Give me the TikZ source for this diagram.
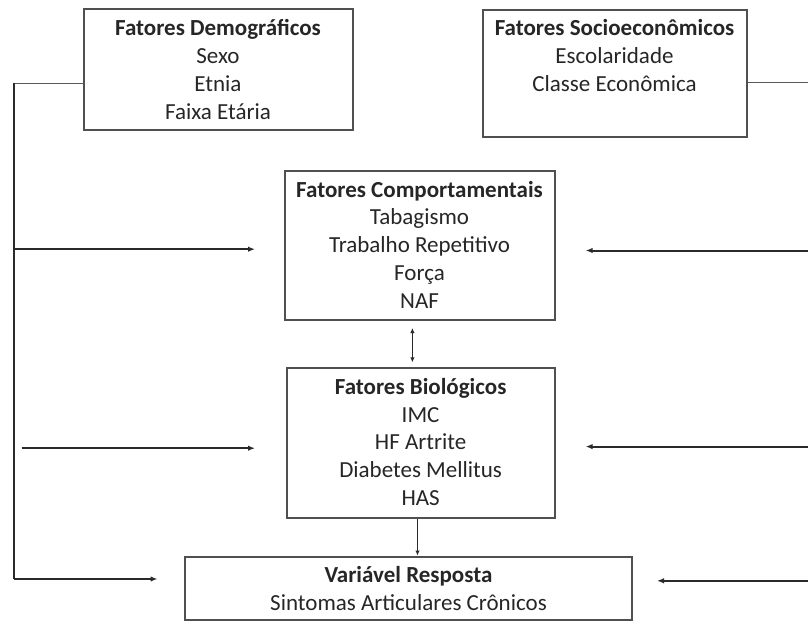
\documentclass[tikz,border=0pt]{standalone}
\usepackage{fontspec}
\setmainfont{Carlito}
\usetikzlibrary{arrows.meta,calc}
\definecolor{boxc}{HTML}{505050}
\definecolor{linec}{HTML}{2A2A2A}
\definecolor{lightline}{HTML}{5A5A5A}
\definecolor{txtc}{HTML}{262626}
\begin{document}
\begin{tikzpicture}[x=1pt,y=-1pt,
  box/.style={draw=boxc, line width=2pt, rectangle, inner sep=0pt},
  txt/.style={anchor=north, inner sep=0pt, align=center, text=txtc,
    font=\fontsize{23}{27.8}\selectfont},
  arr/.style={draw=linec, line width=2pt, -{Latex[length=7pt,width=5.5pt]}},
  link/.style={draw=lightline, line width=1.3pt},
  small/.style={draw=linec, line width=1.3pt, {Latex[length=5pt,width=4.5pt]}-{Latex[length=5pt,width=4.5pt]}},
  down/.style={draw=linec, line width=1.3pt, -{Latex[length=5pt,width=4.5pt]}}]
\useasboundingbox (0,0) rectangle (808,623);

% boxes
\node[box, minimum width=269pt, minimum height=120.8pt] (demo) at (218,69.9) {};
\node[box, minimum width=264pt, minimum height=127.5pt] (socio) at (614.5,73.3) {};
\node[box, minimum width=270pt, minimum height=149.4pt] (comp) at (419.5,245.5) {};
\node[box, minimum width=268pt, minimum height=150pt] (bio) at (420.6,443) {};
\node[box, minimum width=447pt, minimum height=63.5pt] (resp) at (408.5,588.3) {};

% texts
\node[txt] (demot) at ([yshift=-7pt]demo.north) {\rule{0pt}{20pt}\textbf{Fatores Demográficos}\\Sexo\\Etnia\\Faixa Etária};
\node[txt] (sociot) at ([yshift=-7pt]socio.north) {\rule{0pt}{20pt}\textbf{Fatores Socioeconômicos}\\Escolaridade\\Classe Econômica};
\node[txt] (compt) at ([yshift=-7pt]comp.north) {\rule{0pt}{20pt}\textbf{Fatores Comportamentais}\\Tabagismo\\Trabalho Repetitivo\\Força\\NAF};
\node[txt] (biot) at ([yshift=-7pt]bio.north) {\rule{0pt}{20pt}\textbf{Fatores Biológicos}\\IMC\\HF Artrite\\Diabetes Mellitus\\HAS};
\node[txt] (respt) at ([yshift=-7pt]resp.north) {\rule{0pt}{20pt}\textbf{Variável Resposta}\\Sintomas Articulares Crônicos};

% coordinates
\coordinate (LT) at (14,83.4);
\coordinate (LB) at (14,579);
\coordinate (L1) at (14,249.2);
\coordinate (L1e) at (255,249.2);
\coordinate (L2s) at (21.6,448.2);
\coordinate (L2e) at (255,448.2);
\coordinate (L3e) at (157.5,579);
\coordinate (RT) at (808,82.6);
\coordinate (R1) at (808,250.5);
\coordinate (R1e) at (585.6,250.5);
\coordinate (R2) at (808,446.6);
\coordinate (R2e) at (585.6,446.6);
\coordinate (R3) at (808,580.8);
\coordinate (R3e) at (657,580.8);
\coordinate (D1) at (412.4,328);
\coordinate (D2) at (412.4,362.3);

% connectors
\draw[link] (demo.west |- LT) -- (LT);
\draw[draw=linec, line width=2pt] (LT) -- (LB);
\draw[arr] (LB) -- (L3e);
\draw[arr] (L1) -- (L1e);
\draw[arr] (L2s) -- (L2e);
\draw[link] (socio.east |- RT) -- (RT);
\draw[arr] (R1) -- (R1e);
\draw[arr] (R2) -- (R2e);
\draw[arr] (R3) -- (R3e);
\draw[small] (D1) -- (D2);
\draw[down] (bio.south -| 417.5,0) -- (resp.north -| 417.5,0);
\end{tikzpicture}
\end{document}
